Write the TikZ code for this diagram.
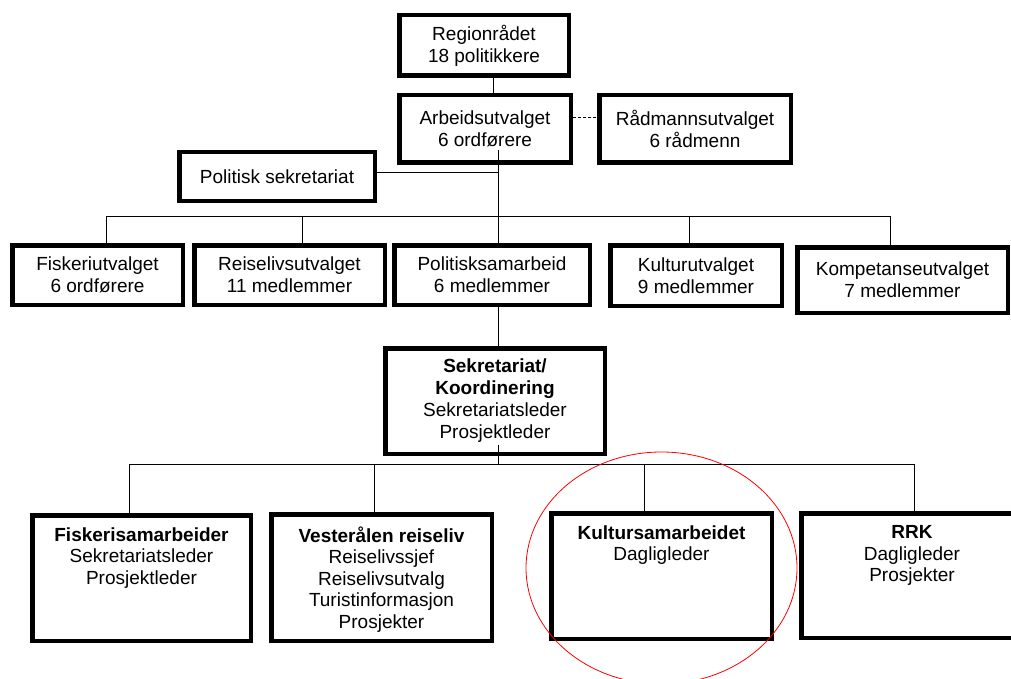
\documentclass[tikz,border=0pt]{standalone}
\usepackage{fontspec}
\setmainfont{Liberation Sans}
\usetikzlibrary{positioning}
\tikzset{
  box/.style={
    draw=black, line width=4.5pt, fill=white,
    inner xsep=4pt, inner ysep=4pt,
    align=center, font=\fontsize{19}{22}\selectfont
  },
  unit/.style={
    box, anchor=north, inner ysep=12pt,
    font=\fontsize{19}{21.5}\selectfont
  },
  link/.style={line width=1pt, draw=black}
}

\begin{document}
\begin{tikzpicture}[x=1pt, y=-1pt]
        \useasboundingbox (0,0) rectangle (1011,679);
        \node[box, minimum width=169.5pt, minimum height=60.5pt] (region) at (484,45.5) {Regionrådet\\18 politikkere};
        \node[box, minimum width=171.5pt, minimum height=67.5pt] (arbeid) at (485,129) {Arbeidsutvalget\\6 ordførere};
        \node[box, minimum width=191.5pt, minimum height=67.5pt] (raad) at (695,129) {Rådmannsutvalget\\6 rådmenn};
        \node[box, minimum width=195.5pt, minimum height=48.5pt] (polsek) at (277,176.5) {Politisk sekretariat};
        \node[box, minimum width=170.5pt, minimum height=59.5pt] (fiske) at (97.5,275) {Fiskeriutvalget\\6 ordførere};
        \node[box, minimum width=190.5pt, minimum height=59.5pt] (reise) at (289.5,275) {Reiselivsutvalget\\11 medlemmer};
        \node[box, minimum width=195.5pt, minimum height=59.5pt] (polsam) at (492,275) {Politisksamarbeid\\6 medlemmer};
        \node[box, minimum width=171.5pt, minimum height=60.5pt] (kultur) at (696,275.5) {Kulturutvalget\\9 medlemmer};
        \node[box, minimum width=210.5pt, minimum height=65.5pt] (kompet) at (902.5,280) {Kompetanseutvalget\\7 medlemmer};
        \node[box, minimum width=219.5pt, minimum height=105.5pt] (sekr) at (495,401) {\textbf{Sekretariat/}\\\textbf{Koordinering}\\Sekretariatsleder\\Prosjektleder};
        \node[unit, minimum width=218.5pt, text depth=44.6pt] (fiskesam) at (141.5,513.25) {\textbf{Fiskerisamarbeider}\\Sekretariatsleder\\Prosjektleder};
        \node[unit, minimum width=220.5pt, text depth=1pt] (vest) at (381.5,512.25) {\textbf{Vesterålen reiseliv}\\Reiselivssjef\\Reiselivsutvalg\\Turistinformasjon\\Prosjekter};
        \node[unit, minimum width=220.5pt, text depth=66.1pt] (kultursam) at (661.5,511.25) {\textbf{Kultursamarbeidet}\\Dagligleder};
        \node[unit, minimum width=221.5pt, text depth=44.6pt] (rrk) at (912,511.25) {\textbf{RRK}\\Dagligleder\\Prosjekter};
        \coordinate (bus1) at (0,216);
        \coordinate (bus2) at (0,464);
        \draw[link] ([xshift=9pt,yshift=4pt]region.south) -- ([xshift=9pt]region.south |- arbeid.north);
        \draw[link, dash pattern=on 3pt off 2pt] ([yshift=11pt]arbeid.east) -- ([yshift=11pt]raad.west);
        \draw[link] ([xshift=13pt,yshift=15pt]arbeid.south) coordinate (trunk) -- (trunk |- polsam.north);
        \draw[link] ([yshift=3.5pt]polsek.east) -- ([yshift=3.5pt]polsek.east -| trunk);
        \draw[link] ([xshift=8.5pt]fiske.north) |- ([xshift=-12.5pt]kompet.north |- bus1) -- ([xshift=-12.5pt]kompet.north);
        \draw[link] ([xshift=12.5pt]reise.north) -- ([xshift=12.5pt]reise.north |- bus1);
        \draw[link] ([xshift=-7pt]kultur.north) -- ([xshift=-7pt]kultur.north |- bus1);
        \draw[link] ([xshift=6pt]polsam.south) -- ([xshift=6pt]polsam.south |- sekr.north);
        \draw[link] ([xshift=3pt,yshift=11pt]sekr.south) -- ([xshift=3pt]sekr.south |- bus2);
        \draw[link] ([xshift=-12.5pt]fiskesam.north) |- ([xshift=2pt]rrk.north |- bus2) -- ([xshift=2pt]rrk.north);
        \draw[link] ([xshift=-7.5pt]vest.north) -- ([xshift=-7.5pt]vest.north |- bus2);
        \draw[link] ([xshift=-17.5pt]kultursam.north) -- ([xshift=-17.5pt]kultursam.north |- bus2);
        \draw[red, line width=0.8pt] (661.5,568) ellipse [x radius=135.5pt, y radius=116pt];
      \end{tikzpicture}
\end{document}
